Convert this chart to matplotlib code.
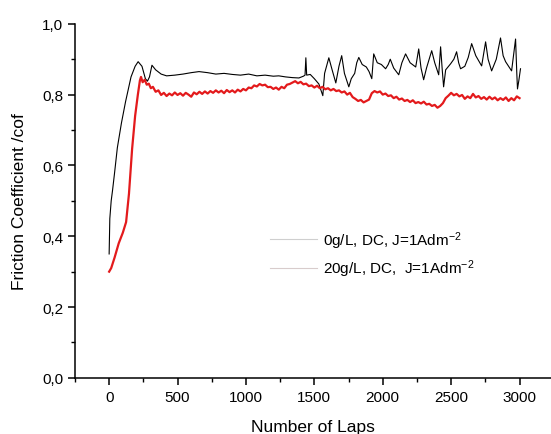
import matplotlib
matplotlib.use("Agg")
import matplotlib.pyplot as plt
from matplotlib.lines import Line2D
from matplotlib.ticker import MultipleLocator, FuncFormatter

plt.rcParams['font.family'] = ['Liberation Sans', 'DejaVu Sans']
plt.rcParams['mathtext.default'] = 'regular'

# 0 g/L series (black)
laps_0 = [0, 5, 15, 25, 40, 60, 90, 120, 140, 160, 190, 212, 240, 265, 280, 295, 313, 340, 380, 420,
          480, 540, 600, 657, 720, 780, 840, 900, 960, 1020, 1080, 1140, 1200, 1240, 1290, 1340, 1387,
          1420, 1432, 1438, 1444, 1470, 1500, 1533, 1562, 1575, 1606, 1630, 1657, 1680, 1700, 1720,
          1752, 1770, 1795, 1810, 1825, 1850, 1880, 1900, 1920, 1934, 1960, 1990, 2021, 2040, 2055,
          2080, 2117, 2140, 2167, 2200, 2241, 2263, 2280, 2299, 2320, 2358, 2380, 2409, 2423, 2435,
          2445, 2460, 2496, 2520, 2540, 2555, 2569, 2600, 2625, 2650, 2680, 2723, 2752, 2770, 2796,
          2830, 2861, 2880, 2898, 2920, 2942, 2971, 2980, 2985, 2995, 3007]
cof_0 = [0.35, 0.45, 0.50, 0.53, 0.58, 0.65, 0.72, 0.78, 0.815, 0.85, 0.88, 0.893, 0.88, 0.845, 0.838,
         0.85, 0.883, 0.87, 0.858, 0.853, 0.855, 0.858, 0.862, 0.865, 0.862, 0.858, 0.860, 0.857, 0.855,
         0.858, 0.853, 0.855, 0.852, 0.853, 0.850, 0.848, 0.847, 0.852, 0.855, 0.904, 0.855, 0.857,
         0.845, 0.83, 0.797, 0.86, 0.904, 0.87, 0.833, 0.88, 0.91, 0.86, 0.822, 0.845, 0.86, 0.89, 0.905,
         0.885, 0.878, 0.865, 0.845, 0.915, 0.89, 0.885, 0.873, 0.885, 0.9, 0.875, 0.856, 0.89, 0.915,
         0.89, 0.878, 0.929, 0.875, 0.842, 0.875, 0.924, 0.89, 0.856, 0.935, 0.87, 0.822, 0.87, 0.887,
         0.9, 0.921, 0.89, 0.873, 0.88, 0.905, 0.944, 0.91, 0.881, 0.949, 0.9, 0.867, 0.9, 0.96, 0.91,
         0.893, 0.88, 0.867, 0.957, 0.86, 0.816, 0.84, 0.873]

# 20 g/L series (red)
laps_20 = [0, 15, 40, 70, 100, 124, 145, 168, 190, 210, 225, 233, 245, 260, 275, 290, 305, 320, 340,
           360, 380, 400, 420, 440, 460, 480, 500, 520, 540, 560, 580, 600, 620, 640, 660, 680, 700,
           720, 740, 760, 780, 800, 820, 840, 860, 880, 900, 920, 940, 960, 980, 1000, 1020, 1040,
           1060, 1080, 1100, 1120, 1140, 1160, 1180, 1200, 1220, 1240, 1260, 1280, 1300, 1320, 1340,
           1360, 1380, 1400, 1420, 1440, 1460, 1480, 1500, 1520, 1540, 1560, 1580, 1600, 1620, 1640,
           1660, 1680, 1700, 1720, 1740, 1760, 1780, 1800, 1820, 1840, 1860, 1880, 1900, 1920, 1940,
           1960, 1980, 2000, 2020, 2040, 2060, 2080, 2100, 2120, 2140, 2160, 2180, 2200, 2220, 2240,
           2260, 2280, 2300, 2320, 2340, 2360, 2380, 2400, 2420, 2440, 2460, 2480, 2500, 2520, 2540,
           2560, 2580, 2600, 2620, 2640, 2660, 2680, 2700, 2720, 2740, 2760, 2780, 2800, 2820, 2840,
           2860, 2880, 2900, 2920, 2940, 2960, 2980, 3000]
cof_20 = [0.30, 0.31, 0.34, 0.38, 0.41, 0.44, 0.52, 0.647, 0.74, 0.80, 0.84, 0.85, 0.835, 0.842, 0.828,
          0.831, 0.818, 0.822, 0.808, 0.812, 0.799, 0.805, 0.796, 0.803, 0.798, 0.806, 0.799, 0.804,
          0.797, 0.805, 0.8, 0.794, 0.806, 0.801, 0.808, 0.802, 0.809, 0.803, 0.81, 0.805, 0.812, 0.806,
          0.811, 0.804, 0.813, 0.807, 0.812, 0.806, 0.814, 0.809, 0.816, 0.812, 0.82, 0.818, 0.826,
          0.823, 0.83, 0.826, 0.828, 0.821, 0.822, 0.816, 0.82, 0.814, 0.822, 0.818, 0.828, 0.83, 0.834,
          0.838, 0.832, 0.836, 0.829, 0.831, 0.824, 0.826, 0.82, 0.825, 0.818, 0.822, 0.815, 0.818,
          0.812, 0.816, 0.81, 0.812, 0.806, 0.809, 0.8, 0.805, 0.793, 0.788, 0.782, 0.785, 0.778, 0.782,
          0.786, 0.804, 0.81, 0.806, 0.809, 0.8, 0.803, 0.796, 0.798, 0.79, 0.794, 0.786, 0.789, 0.782,
          0.785, 0.779, 0.784, 0.776, 0.779, 0.775, 0.78, 0.772, 0.774, 0.768, 0.771, 0.763, 0.768,
          0.776, 0.79, 0.797, 0.805, 0.798, 0.802, 0.795, 0.799, 0.788, 0.795, 0.79, 0.802, 0.792,
          0.796, 0.788, 0.793, 0.786, 0.794, 0.787, 0.792, 0.784, 0.79, 0.785, 0.792, 0.782, 0.79,
          0.784, 0.795, 0.79]

labels = ["0g/L, DC, J=1Adm$^{-2}$", "20g/L, DC,  J=1Adm$^{-2}$"]
x_ticks = [0, 500, 1000, 1500, 2000, 2500, 3000]
y_ticks = [0.0, 0.2, 0.4, 0.6, 0.8, 1.0]

fig = plt.figure(figsize=(5.51, 4.35), dpi=100)
ax = fig.add_axes([0.136, 0.129, 0.864, 0.814])

ax.plot(laps_0, cof_0, color='black', lw=0.8)
ax.plot(laps_20, cof_20, color='#e31a1c', lw=1.6)

ax.set_xlim(-250, 3230)
ax.set_ylim(0, 1.0)
ax.set_xticks(x_ticks)
ax.set_yticks(y_ticks)
ax.xaxis.set_minor_locator(MultipleLocator(250))
ax.yaxis.set_minor_locator(MultipleLocator(0.1))
ax.yaxis.set_major_formatter(FuncFormatter(lambda v, p: f"{v:.1f}".replace('.', ',')))

for s in ['top', 'right']:
    ax.spines[s].set_visible(False)
for s in ['left', 'bottom']:
    ax.spines[s].set_linewidth(1.1)
ax.tick_params(which='major', direction='out', length=5, width=1.1, labelsize=11)
ax.tick_params(which='minor', direction='out', length=3, width=1.0)

ax.set_xlabel("Number of Laps", fontsize=12.5)
ax.set_ylabel("Friction Coefficient /cof", fontsize=12.5)
ax.xaxis.set_label_coords(0.5, -0.115)
ax.yaxis.set_label_coords(-0.10, 0.5)

handles = [Line2D([], [], color='#cfcfcf', lw=0.8), Line2D([], [], color='#d8cccc', lw=0.8)]
ax.legend(handles, labels, loc='upper left', bbox_to_anchor=(270 / 551, 1 - 230 / 435),
          bbox_transform=fig.transFigure, frameon=False, fontsize=11, borderpad=0,
          borderaxespad=0, handlelength=3.1, handletextpad=0.4, labelspacing=0.45)

fig.savefig("out.png", dpi=100)
